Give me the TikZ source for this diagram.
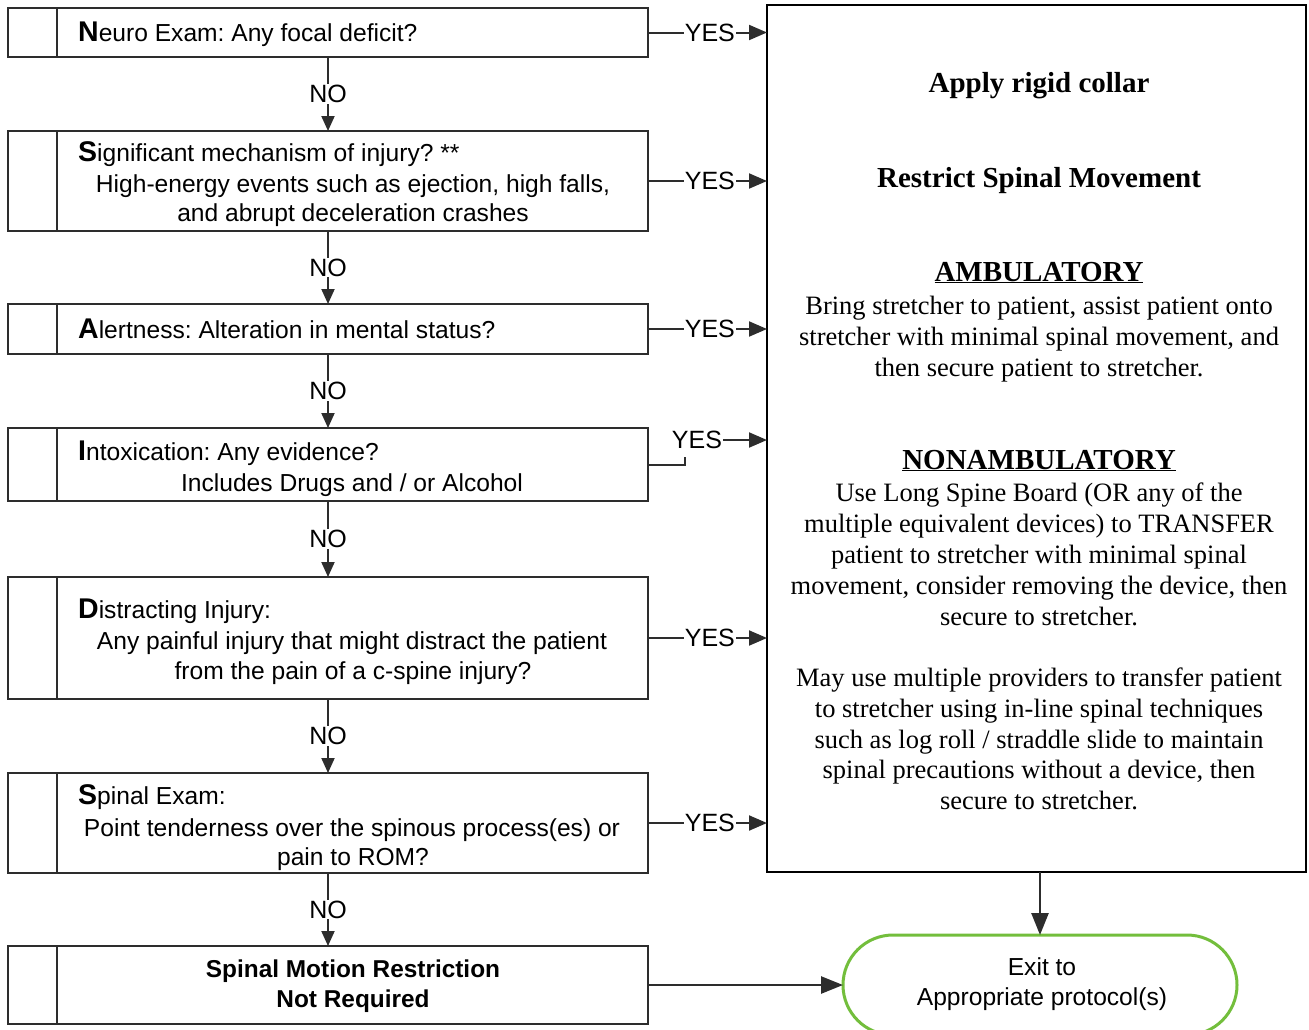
\documentclass[tikz,border=0pt]{standalone}
\usepackage{fontspec}
\setmainfont{Liberation Serif}
\newfontfamily\arialf{Liberation Sans}
\usetikzlibrary{arrows.meta}
\frenchspacing
\definecolor{boxgray}{RGB}{45,45,45}
\definecolor{exitgreen}{RGB}{115,190,60}
\tikzset{
  qbox/.style={draw=boxgray, line width=2.2pt, minimum width=640pt, inner sep=0pt, outer sep=0pt},
  ltxt/.style={font=\arialf\fontsize{24.6}{30}\selectfont, inner sep=0pt, anchor=base west},
  ctxt/.style={font=\arialf\fontsize{24.6}{30}\selectfont, inner sep=0pt, anchor=base},
  btxt/.style={font=\arialf\bfseries\fontsize{24.4}{30}\selectfont, inner sep=0pt, anchor=base},
  lbl/.style={font=\arialf\fontsize{25}{28}\selectfont, fill=white, inner sep=1pt},
  conn/.style={draw=boxgray, line width=2pt},
  noarrow/.style={conn, -{Triangle[length=15pt,width=13pt]}},
  yesarrow/.style={conn, -{Triangle[length=18pt,width=15pt]}},
  bigarrow/.style={draw=boxgray, line width=2.6pt, -{Triangle[length=22pt,width=17pt]}},
  rhead/.style={font=\bfseries\fontsize{29}{31}\selectfont, inner sep=0pt, anchor=base},
  rtxt/.style={font=\fontsize{26.5}{31}\selectfont, inner sep=0pt, anchor=base},
}
\newcommand{\fl}[1]{{\bfseries\fontsize{28.5}{30}\selectfont #1}}
\begin{document}
\begin{tikzpicture}[x=1pt,y=-1pt]
\useasboundingbox (0,0) rectangle (1309,1029);
% left boxes
\node[qbox, minimum height=49pt]  (b1) at (328,32.5) {};
\node[qbox, minimum height=100pt] (b2) at (328,181) {};
\node[qbox, minimum height=50pt]  (b3) at (328,329) {};
\node[qbox, minimum height=73pt]  (b4) at (328,464.5) {};
\node[qbox, minimum height=122pt] (b5) at (328,638) {};
\node[qbox, minimum height=100pt] (b6) at (328,823) {};
\node[qbox, minimum height=78pt]  (b7) at (328,985) {};
\foreach \b in {b1,b2,b3,b4,b5,b6,b7}
  \draw[draw=boxgray, line width=2.2pt] ([xshift=49pt]\b.north west) -- ([xshift=49pt]\b.south west);
% texts in left boxes
\node[ltxt] (t1) at (78,41.5) {\fl{N}euro Exam: Any focal deficit?};
\node[ltxt] (t2a) at (78,161) {\fl{S}ignificant mechanism of injury? **};
\node[ctxt] (t2b) at (353,192) {High-energy events such as ejection, high falls,};
\node[ctxt] (t2c) at (353,221) {and abrupt deceleration crashes};
\node[ltxt] (t3) at (78,338) {\fl{A}lertness: Alteration in mental status?};
\node[ltxt] (t4a) at (78,460) {\fl{I}ntoxication: Any evidence?};
\node[ctxt] (t4b) at (352,491) {Includes Drugs and / or Alcohol};
\node[ltxt] (t5a) at (78,618) {\fl{D}istracting Injury:};
\node[ctxt] (t5b) at (352,649) {Any painful injury that might distract the patient};
\node[ctxt] (t5c) at (353,679) {from the pain of a c-spine injury?};
\node[ltxt] (t6a) at (78,804) {\fl{S}pinal Exam:};
\node[ctxt] (t6b) at (352,836) {Point tenderness over the spinous process(es) or};
\node[ctxt] (t6c) at (353,865) {pain to ROM?};
\node[btxt] (t7a) at (353,977) {Spinal Motion Restriction};
\node[btxt] (t7b) at (353,1007) {Not Required};
% right box
\node[draw=black, line width=2.5pt, minimum width=539pt, minimum height=867pt, inner sep=0pt, outer sep=0pt] (R) at (1036.5,438.5) {};
\node[rhead] (r1) at (1039,92) {Apply rigid collar};
\node[rhead] (r2) at (1039,187) {Restrict Spinal Movement};
\node[rhead] (r3) at (1039,281) {\underline{AMBULATORY}};
\node[rtxt] (r4) at (1039,314) {Bring stretcher to patient, assist patient onto};
\node[rtxt] (r5) at (1039,345) {stretcher with minimal spinal movement, and};
\node[rtxt] (r6) at (1039,376) {then secure patient to stretcher.};
\node[rhead] (r7) at (1039,469) {\underline{NONAMBULATORY}};
\node[rtxt] (r8) at (1039,501) {Use Long Spine Board (OR any of the};
\node[rtxt] (r9) at (1039,532) {multiple equivalent devices) to TRANSFER};
\node[rtxt] (r10) at (1039,563) {patient to stretcher with minimal spinal};
\node[rtxt] (r11) at (1039,594) {movement, consider removing the device, then};
\node[rtxt] (r12) at (1039,625) {secure to stretcher.};
\node[rtxt] (r13) at (1039,686) {May use multiple providers to transfer patient};
\node[rtxt] (r14) at (1039,717) {to stretcher using in-line spinal techniques};
\node[rtxt] (r15) at (1039,748) {such as log roll / straddle slide to maintain};
\node[rtxt] (r16) at (1039,778) {spinal precautions without a device, then};
\node[rtxt] (r17) at (1039,809) {secure to stretcher.};
% exit node
\node[draw=exitgreen, line width=3pt, rounded corners=50pt, minimum width=394pt, minimum height=100pt, inner sep=0pt, outer sep=0pt] (X) at (1040,985) {};
\node[ctxt] (x1) at (1042,975) {Exit to};
\node[ctxt] (x2) at (1042,1005) {Appropriate protocol(s)};
% NO connectors
\draw[noarrow] (b1.south) -- node[lbl]{NO} (b2.north);
\draw[noarrow] (b2.south) -- node[lbl]{NO} (b3.north);
\draw[noarrow] (b3.south) -- node[lbl]{NO} (b4.north);
\draw[noarrow] (b4.south) -- node[lbl]{NO} (b5.north);
\draw[noarrow] (b5.south) -- node[lbl]{NO} (b6.north);
\draw[noarrow] (b6.south) -- node[lbl]{NO} (b7.north);
% YES connectors
\draw[yesarrow] (b1.east) -- node[lbl, pos=0.52]{YES} (b1.east -| R.west);
\draw[yesarrow] (b2.east) -- node[lbl, pos=0.52]{YES} (b2.east -| R.west);
\draw[yesarrow] (b3.east) -- node[lbl, pos=0.52]{YES} (b3.east -| R.west);
\draw[yesarrow] (b5.east) -- node[lbl, pos=0.52]{YES} (b5.east -| R.west);
\draw[yesarrow] (b6.east) -- node[lbl, pos=0.52]{YES} (b6.east -| R.west);
\coordinate (k4) at (685,457);
\draw[conn] (b4.east) -| (k4);
\node[lbl, fill=none] (y4) at (697,440) {YES};
\draw[yesarrow] (y4.east) -- (y4.east -| R.west);
% bottom connectors
\draw[bigarrow] (b7.east) -- (X.west);
\draw[bigarrow] (X.north |- R.south) -- (X.north);
\end{tikzpicture}
\end{document}
